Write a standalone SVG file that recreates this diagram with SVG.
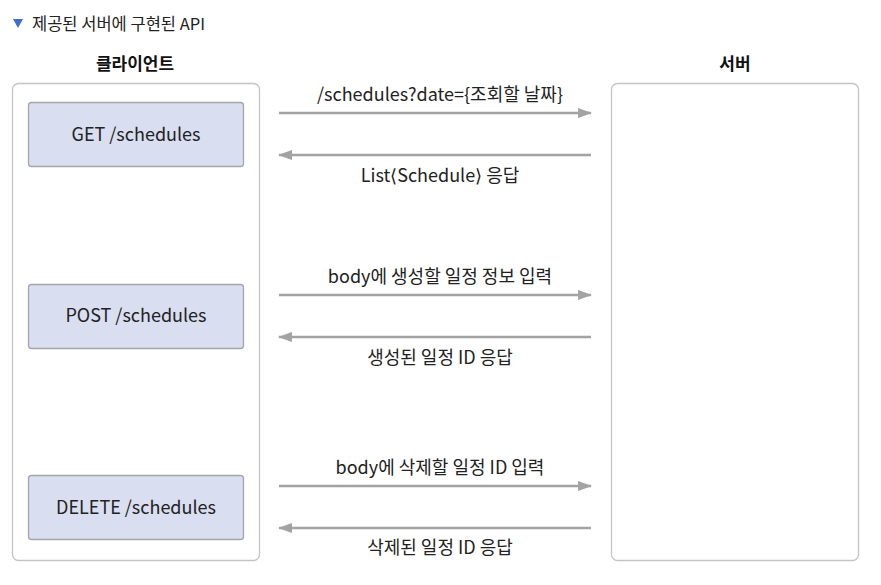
<svg xmlns="http://www.w3.org/2000/svg" width="881" height="585" viewBox="0 0 881 585">
<defs>
<style>
text{font-family:"Noto Sans CJK KR","Noto Sans",sans-serif;fill:#222;}
.lbl{font-size:18px;text-anchor:middle;}
.hd{font-size:17px;font-weight:bold;text-anchor:middle;fill:#111;}
.frame{fill:#fff;stroke:#c4c4c4;stroke-width:1.3;}
.ep{fill:#d9def0;stroke:#a6a6a6;stroke-width:1.3;}
.ar{stroke:#a3a3a3;stroke-width:2.5;fill:none;}
</style>
<marker id="ah" viewBox="0 0 14 10" refX="13" refY="5" markerWidth="14" markerHeight="10" markerUnits="userSpaceOnUse" orient="auto">
<path d="M0,0 L14,5 L0,10 Z" fill="#a3a3a3"/>
</marker>
</defs>
<rect width="881" height="585" fill="#fff"/>
<g id="title">
<path d="M13,19 L23,19 L18,28 Z" fill="#3f6fc6"/>
<text x="32" y="30" style="font-size:16.5px">제공된 서버에 구현된 API</text>
</g>
<g id="client">
<text class="hd" x="135" y="70">클라이언트</text>
<rect class="frame" x="12.5" y="83.5" width="247" height="477" rx="6"/>
</g>
<g id="server">
<text class="hd" x="735" y="70">서버</text>
<rect class="frame" x="611.5" y="83.5" width="247" height="477" rx="6"/>
</g>
<g id="get">
<rect class="ep" x="28.5" y="102.5" width="215" height="64" rx="3"/>
<text class="lbl" x="136" y="141">GET /schedules</text>
</g>
<g id="post">
<rect class="ep" x="28.5" y="284.5" width="215" height="64" rx="3"/>
<text class="lbl" x="136" y="322">POST /schedules</text>
</g>
<g id="delete">
<rect class="ep" x="28.5" y="475.5" width="215" height="64" rx="3"/>
<text class="lbl" x="136" y="514">DELETE /schedules</text>
</g>
<g id="connectors">
<line class="ar" x1="279" y1="113" x2="591" y2="113" marker-end="url(#ah)"/>
<line class="ar" x1="591" y1="155" x2="279" y2="155" marker-end="url(#ah)"/>
<line class="ar" x1="279" y1="295" x2="591" y2="295" marker-end="url(#ah)"/>
<line class="ar" x1="591" y1="337" x2="279" y2="337" marker-end="url(#ah)"/>
<line class="ar" x1="279" y1="486" x2="591" y2="486" marker-end="url(#ah)"/>
<line class="ar" x1="591" y1="528" x2="279" y2="528" marker-end="url(#ah)"/>
<text class="lbl" x="440" y="101">/schedules?date={조회할 날짜}</text>
<text class="lbl" x="440" y="182">List⟨Schedule⟩ 응답</text>
<text class="lbl" x="440" y="283">body에 생성할 일정 정보 입력</text>
<text class="lbl" x="440" y="364">생성된 일정 ID 응답</text>
<text class="lbl" x="440" y="474">body에 삭제할 일정 ID 입력</text>
<text class="lbl" x="440" y="554">삭제된 일정 ID 응답</text>
</g>
</svg>
